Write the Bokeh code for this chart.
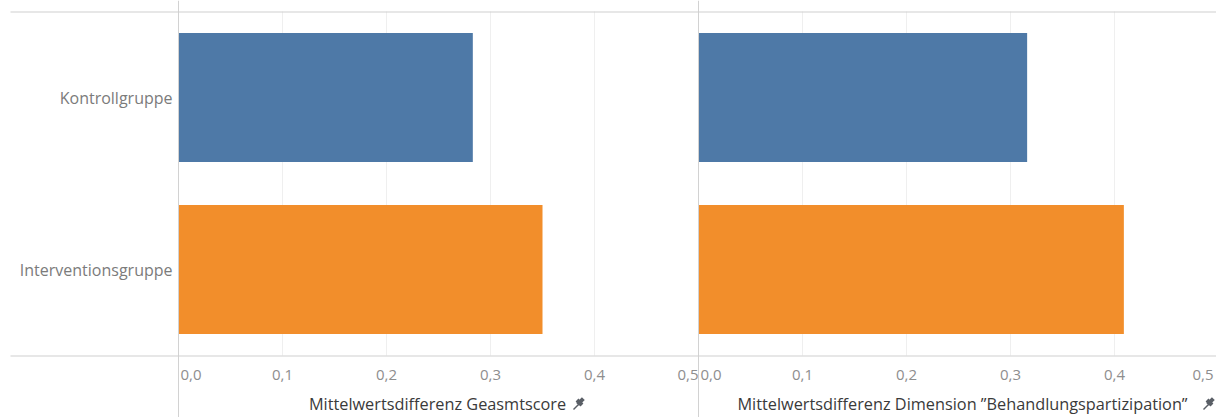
import math

from bokeh.plotting import figure
from bokeh.models import Range1d
from bokeh.core.properties import value
from bokeh.embed import file_html
from bokeh.resources import INLINE

# ---- data -------------------------------------------------------------
groups = ["Kontrollgruppe", "Interventionsgruppe"]
diff_total = [0.283, 0.350]            # Mittelwertsdifferenz Gesamtscore
diff_participation = [0.316, 0.409]    # Dimension "Behandlungspartizipation"
bar_colors = ["#4E79A7", "#F28E2B"]
tick_values = [0.0, 0.1, 0.2, 0.3, 0.4, 0.5]
tick_labels = ["0,0", "0,1", "0,2", "0,3", "0,4", "0,5"]
title_total = "Mittelwertsdifferenz Geasmtscore"
title_participation = "Mittelwertsdifferenz Dimension \u201dBehandlungspartizipation\u201d"

# ---- layout (pixels) --------------------------------------------------
W, H = 1216, 417
PX_PER_UNIT = 1040.0      # horizontal pixels per 1.0 difference
ROW_PX = 172.0            # height of one category row
LEFT_ZERO = 178           # x pixel of 0 in the left pane
RIGHT_ZERO = 698          # x pixel of 0 in the right pane
ROWS_TOP, ROWS_BOTTOM = 11, 355
RULE_LEFT = 10            # header / footer rules start here

FONT = value("Open Sans")


def ypix(px):
    """Convert a pixel row (from top) to the y data coordinate."""
    return (ROWS_BOTTOM - px) / ROW_PX


n = len(groups)
row_y = [n - 1 - i + 0.5 for i in range(n)]
y_lo, y_hi = ypix(H), ypix(0)

left_start = -LEFT_ZERO / PX_PER_UNIT
right_start = -RIGHT_ZERO / PX_PER_UNIT

p = figure(
    width=W, height=H,
    x_range=Range1d(left_start, left_start + W / PX_PER_UNIT),
    y_range=Range1d(y_lo, y_hi),
    x_axis_location=None, y_axis_location=None,
    output_backend="svg", toolbar_location=None,
    min_border=0, outline_line_color=None,
)
p.extra_x_ranges = {"right": Range1d(right_start, right_start + W / PX_PER_UNIT)}
p.grid.visible = False

GRID = "#efefef"
ZERO = "#d2d2d2"
RULE = "#cfcfcf"
# (range name, values, last tick label offset so it stays on the canvas)
panes = [("default", diff_total, 0), ("right", diff_participation, -5)]

for rng, vals, last_off in panes:
    # light vertical gridlines inside the row area
    inner = tick_values[1:-1]
    p.segment(x0=inner, x1=inner, y0=[0] * len(inner), y1=[n] * len(inner),
              line_color=GRID, line_width=1, x_range_name=rng)
    # bars
    p.hbar(y=row_y, left=0, right=vals, height=0.75, fill_color=bar_colors,
           line_color=None, x_range_name=rng)
    # zero line runs through the whole height
    p.segment(x0=[0], x1=[0], y0=[y_lo], y1=[y_hi], line_color=ZERO,
              line_width=1, x_range_name=rng)

    # tick labels: first hugs the zero line, last ends at 0,5
    aligns = ["left"] + ["center"] * (len(tick_values) - 2) + ["right"]
    offs = [2] + [0] * (len(tick_values) - 2) + [last_off]
    p.text(x=tick_values, y=[ypix(374)] * len(tick_values), text=tick_labels,
           text_align=aligns, text_baseline="middle", x_offset=offs,
           text_font=FONT, text_font_size="15px", text_color="#8e8e8e",
           x_range_name=rng)

# header and footer rules
rule_x0 = (RULE_LEFT - LEFT_ZERO) / PX_PER_UNIT
rule_x1 = left_start + W / PX_PER_UNIT
p.segment(x0=[rule_x0, rule_x0], x1=[rule_x1, rule_x1],
          y0=[ypix(ROWS_TOP + 0.5), ypix(ROWS_BOTTOM + 0.5)],
          y1=[ypix(ROWS_TOP + 0.5), ypix(ROWS_BOTTOM + 0.5)],
          line_color=RULE, line_width=1)

# category labels
p.text(x=[0] * n, y=row_y, text=groups, x_offset=-6, text_align="right",
       text_baseline="middle", text_font=FONT, text_font_size="16px",
       text_color="#7b7b7b")

# axis titles with a pin mark after each
title_y = ypix(403)
p.text(x=[(437 - LEFT_ZERO) / PX_PER_UNIT], y=[title_y], text=[title_total],
       text_align="center", text_baseline="middle", text_font=FONT,
       text_font_size="16.3px", text_color="#3a3a3a")
p.text(x=[(962 - RIGHT_ZERO) / PX_PER_UNIT], y=[title_y], text=[title_participation],
       text_align="center", text_baseline="middle", text_font=FONT,
       text_font_size="16.3px", text_color="#3a3a3a", x_range_name="right")

pin_x = {"default": (578 - LEFT_ZERO) / PX_PER_UNIT,
         "right": (1208 - RIGHT_ZERO) / PX_PER_UNIT}
for rng, px in pin_x.items():
    hx, hy = px + 2 / PX_PER_UNIT, ypix(401)
    p.rect(x=[hx], y=[hy], width=8, height=4, width_units="screen",
           height_units="screen", angle=math.pi / 4, fill_color="#5a5f66",
           line_color=None, x_range_name=rng)
    p.rect(x=[hx - 1 / PX_PER_UNIT], y=[ypix(402)], width=4, height=7,
           width_units="screen", height_units="screen", angle=math.pi / 4,
           fill_color="#5a5f66", line_color=None, x_range_name=rng)
    p.segment(x0=[hx - 2 / PX_PER_UNIT], y0=[ypix(404)],
              x1=[hx - 7 / PX_PER_UNIT], y1=[ypix(409)],
              line_color="#5a5f66", line_width=1.5, x_range_name=rng)

open("out.html", "w").write(file_html(p, INLINE))
